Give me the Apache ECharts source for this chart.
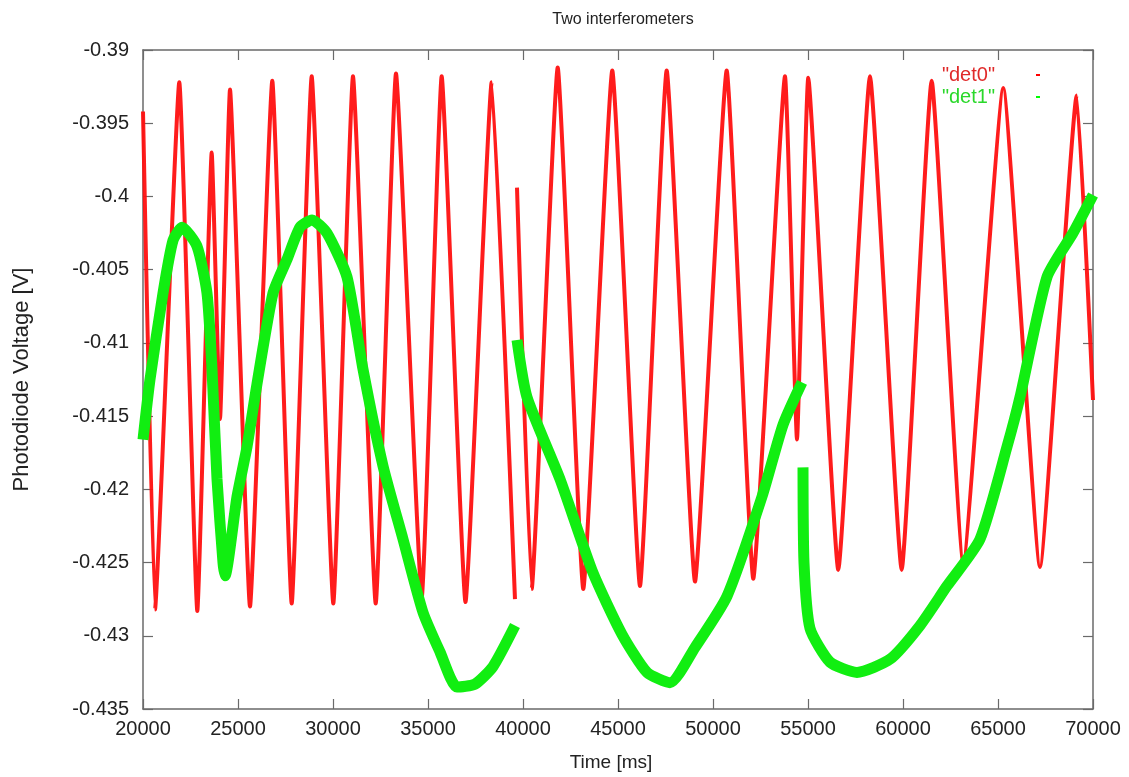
<!DOCTYPE html>
<html>
<head>
<meta charset="utf-8">
<script src="https://cdn.jsdelivr.net/npm/echarts@6/dist/echarts.min.js"></script>
<style>
html,body{margin:0;padding:0;background:#fff;}
#chart{width:1129px;height:777px;}
</style>
</head>
<body>
<div id="chart"></div>
<script>
// ---- data (turning points of each trace), null = gap in the record ----
const det0Time = [20000, 20632, 21910, 22858, 23616, 24053, 24579, 25631, 26805, 27826,
                  28879, 30016, 31052, 32247, 33315, 34668, 35720, 36973, 38352, 39578,
                  39630,
                  39684, 40457, 41826, 43173, 44699, 46157, 47562, 49052, 50720, 52120,
                  53788, 54420, 55014, 56593, 58262, 59930, 61509, 63172, 65277, 67209,
                  69140, 70000];
const det0Volt = [-0.3942, -0.4282, -0.3922, -0.4283, -0.3970, -0.4152, -0.3927, -0.4280, -0.3921, -0.4278,
                  -0.3918, -0.4278, -0.3918, -0.4278, -0.3916, -0.4274, -0.3918, -0.4277, -0.3922, -0.4275,
                  null,
                  -0.3994, -0.4268, -0.3912, -0.4268, -0.3914, -0.4266, -0.3914, -0.4263, -0.3914, -0.4261,
                  -0.3918, -0.4166, -0.3919, -0.4255, -0.3918, -0.4255, -0.3921, -0.4250, -0.3926, -0.4253,
                  -0.3931, -0.4139];

const det1Time = [20000, 20368, 21053, 21579, 22053, 22842, 23368, 23632, 23895, 24210,
                  24316, 24947, 25474, 26000, 26842, 27579, 28263, 28895, 29684, 30737,
                  31579, 32632, 33684, 34737, 35631, 36526, 37473, 38421, 39579,
                  39630,
                  39684, 40210, 41947, 43684, 45210, 46526, 47736, 49052, 50737, 52579,
                  53684, 54684,
                  54710,
                  54737, 54789, 55105, 56158, 57579, 59316, 60895, 62316, 64053, 65474,
                  66158, 67579, 68947, 70000];
const det1Volt = [-0.4166, -0.4125, -0.4066, -0.4030, -0.4021, -0.4034, -0.4066, -0.4118, -0.4193, -0.4250,
                  -0.4259, -0.4205, -0.4171, -0.4128, -0.4066, -0.4043, -0.4021, -0.4016, -0.4025, -0.4055,
                  -0.4118, -0.4184, -0.4234, -0.4284, -0.4311, -0.4335, -0.4333, -0.4321, -0.4293,
                  null,
                  -0.4098, -0.4137, -0.4193, -0.4257, -0.4299, -0.4325, -0.4332, -0.4308, -0.4273, -0.4205,
                  -0.4156, -0.4127,
                  null,
                  -0.4185, -0.4250, -0.4295, -0.4318, -0.4325, -0.4316, -0.4293, -0.4266, -0.4234, -0.4171,
                  -0.4137, -0.4055, -0.4025, -0.3999];

const seriesNames = ['"det0"', '"det1"'];
const xTickValues = [20000, 25000, 30000, 35000, 40000, 45000, 50000, 55000, 60000, 65000, 70000];
const yTickValues = [-0.435, -0.43, -0.425, -0.42, -0.415, -0.41, -0.405, -0.4, -0.395, -0.39];
const titleText = 'Two interferometers';
const xName = 'Time [ms]';
const yName = 'Photodiode Voltage [V]';

// ---- build ----
function pairs(t, v) {
  return t.map((x, i) => [x, v[i] === null ? '-' : v[i]]);
}
const FONT = 'Liberation Sans, Arial, sans-serif';
const AX = '#6a6a6a';

const chart = echarts.init(document.getElementById('chart'), null, {renderer: 'canvas'});

const baseX = {
  type: 'value',
  min: xTickValues[0],
  max: xTickValues[xTickValues.length - 1],
  interval: xTickValues[1] - xTickValues[0],
  splitLine: {show: false},
  axisLine: {show: true, lineStyle: {color: AX, width: 1.5}},
  axisTick: {show: true, inside: true, length: 10, lineStyle: {color: AX, width: 1.2}}
};
const baseY = {
  type: 'value',
  min: yTickValues[0],
  max: yTickValues[yTickValues.length - 1],
  interval: 0.005,
  scale: true,
  splitLine: {show: false},
  axisLine: {show: true, onZero: false, lineStyle: {color: AX, width: 1.5}},
  axisTick: {show: true, inside: true, length: 10, lineStyle: {color: AX, width: 1.2}}
};

const option = {
  backgroundColor: '#ffffff',
  animation: false,
  title: {
    text: titleText,
    left: 618,
    top: 7,
    textAlign: 'center',
    textStyle: {fontFamily: FONT, fontSize: 16, fontWeight: 'normal', color: '#222'}
  },
  legend: {
    orient: 'vertical',
    right: 84,
    top: 60,
    align: 'right',
    itemWidth: 40,
    itemHeight: 14,
    itemGap: 2,
    icon: 'path://M0,0 M0,14 M36,6 L40,6 L40,8 L36,8 Z',
    itemStyle: {borderWidth: 0},
    data: [
      {name: seriesNames[0], textStyle: {color: '#e02a2a'}},
      {name: seriesNames[1], textStyle: {color: '#2ad82a'}}
    ],
    textStyle: {fontFamily: FONT, fontSize: 20},
    selectedMode: false
  },
  grid: {left: 143, right: 36, top: 50, bottom: 67, show: false},
  xAxis: [
    Object.assign({}, baseX, {
      position: 'bottom',
      name: xName,
      nameLocation: 'middle',
      nameGap: 44,
      nameTextStyle: {fontFamily: FONT, fontSize: 19, color: '#222', padding: [0, 14, 0, 0]},
      axisLabel: {margin: 10, fontFamily: FONT, fontSize: 20, color: '#222', formatter: v => String(v)}
    }),
    Object.assign({}, baseX, {position: 'top', axisLabel: {show: false}})
  ],
  yAxis: [
    Object.assign({}, baseY, {
      position: 'left',
      name: yName,
      nameLocation: 'middle',
      nameGap: 110,
      nameRotate: 90,
      nameTextStyle: {fontFamily: FONT, fontSize: 22, color: '#222'},
      axisLabel: {margin: 14, fontFamily: FONT, fontSize: 20, color: '#222',
                  formatter: v => String(Number(v.toFixed(3)))}
    }),
    Object.assign({}, baseY, {position: 'right', axisLabel: {show: false}})
  ],
  series: [
    {
      name: seriesNames[0],
      type: 'line',
      data: pairs(det0Time, det0Volt),
      showSymbol: false,
      smooth: 0.12,
      connectNulls: false,
      color: '#ff0000',
      lineStyle: {color: '#ff1010', width: 4, opacity: 0.95},
      z: 2
    },
    {
      name: seriesNames[1],
      type: 'line',
      data: pairs(det1Time, det1Volt),
      showSymbol: false,
      smooth: 0.2,
      connectNulls: false,
      color: '#00ff00',
      lineStyle: {color: '#11ee11', width: 11},
      z: 3
    }
  ]
};
chart.setOption(option);
</script>
</body>
</html>
